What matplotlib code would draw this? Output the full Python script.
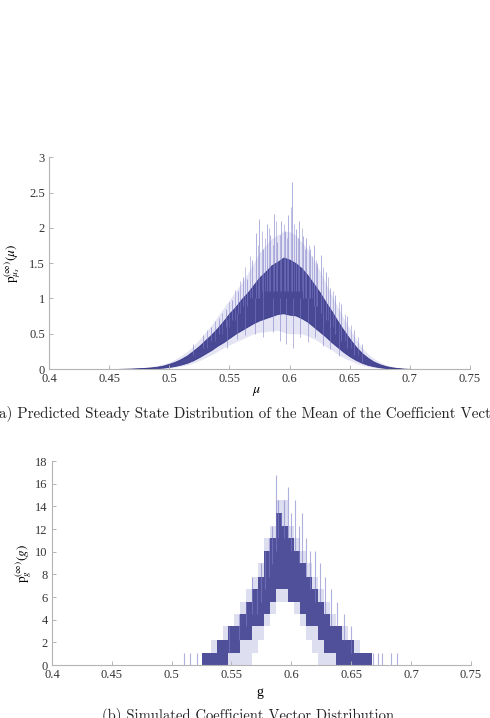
import matplotlib
import numpy as np
from matplotlib import pyplot as plt
from matplotlib.ticker import FormatStrFormatter

matplotlib.use("Agg")
plt.rcParams["mathtext.fontset"] = "stix"

# ---- (a) predicted steady state density of the mean
mu_x = [0.455, 0.460, 0.465, 0.470, 0.475, 0.480, 0.485, 0.490, 0.495, 0.500,
        0.505, 0.510, 0.515, 0.520, 0.525, 0.530, 0.535, 0.540, 0.545, 0.550,
        0.555, 0.560, 0.565, 0.570, 0.575, 0.580, 0.585, 0.590, 0.595, 0.600,
        0.605, 0.610, 0.615, 0.620, 0.625, 0.630, 0.635, 0.640, 0.645, 0.650,
        0.655, 0.660, 0.665, 0.670, 0.675, 0.680, 0.685, 0.690, 0.695, 0.700,
        0.705]
# dense dark core
mu_lo = [0.000, 0.000, 0.000, 0.002, 0.004, 0.006, 0.009, 0.014, 0.020, 0.030,
         0.045, 0.065, 0.090, 0.125, 0.17, 0.22, 0.27, 0.33, 0.38, 0.44,
         0.50, 0.55, 0.60, 0.65, 0.69, 0.72, 0.75, 0.78, 0.79, 0.77,
         0.76, 0.72, 0.67, 0.60, 0.53, 0.46, 0.38, 0.31, 0.24, 0.18,
         0.13, 0.09, 0.06, 0.04, 0.025, 0.015, 0.008, 0.004, 0.002, 0.000,
         0.000]
mu_hi = [0.000, 0.004, 0.006, 0.009, 0.012, 0.017, 0.024, 0.034, 0.050, 0.075,
         0.105, 0.145, 0.195, 0.26, 0.33, 0.41, 0.49, 0.58, 0.68, 0.79,
         0.88, 0.99, 1.08, 1.19, 1.30, 1.38, 1.47, 1.52, 1.58, 1.55,
         1.50, 1.43, 1.33, 1.21, 1.09, 0.95, 0.82, 0.68, 0.55, 0.43,
         0.32, 0.23, 0.16, 0.105, 0.068, 0.042, 0.025, 0.014, 0.007, 0.003,
         0.000]
# faint haze around the core
mu_haze_lo = [0, 0, 0, 0, 0, 0.002, 0.005, 0.008, 0.012, 0.018,
              0.028, 0.04, 0.06, 0.085, 0.12, 0.16, 0.2, 0.25, 0.3, 0.34,
              0.38, 0.42, 0.46, 0.5, 0.52, 0.53, 0.54, 0.55, 0.52, 0.5,
              0.5, 0.5, 0.47, 0.43, 0.38, 0.32, 0.27, 0.21, 0.16, 0.12,
              0.085, 0.055, 0.035, 0.022, 0.013, 0.008, 0.004, 0.002, 0, 0,
              0]
mu_haze_hi = [0, 0.006, 0.009, 0.013, 0.018, 0.025, 0.035, 0.05, 0.072, 0.1,
              0.14, 0.19, 0.25, 0.33, 0.42, 0.52, 0.62, 0.74, 0.86, 0.98,
              1.1, 1.22, 1.35, 1.5, 1.65, 1.75, 1.85, 1.9, 1.95, 1.95,
              1.9, 1.8, 1.7, 1.55, 1.4, 1.22, 1.05, 0.88, 0.72, 0.57,
              0.43, 0.31, 0.22, 0.15, 0.1, 0.06, 0.036, 0.02, 0.01, 0.004,
              0]

mu_spike_x = [0.520, 0.528, 0.535, 0.541, 0.547, 0.552, 0.557, 0.561, 0.565, 0.569,
              0.572, 0.575, 0.578, 0.581, 0.584, 0.587, 0.590, 0.593, 0.596, 0.599,
              0.602, 0.605, 0.608, 0.611, 0.614, 0.617, 0.620, 0.623, 0.626, 0.630,
              0.634, 0.638, 0.643, 0.648, 0.654, 0.660]
mu_spike_top = [0.36, 0.48, 0.60, 0.72, 0.85, 0.98, 1.10, 1.30, 1.28, 1.55,
                1.92, 2.12, 1.70, 2.05, 1.90, 2.20, 1.80, 2.10, 1.95, 2.18,
                2.65, 1.98, 2.10, 1.88, 1.85, 1.70, 1.76, 1.50, 1.62, 1.38,
                1.15, 1.05, 0.92, 0.75, 0.55, 0.35]
mu_spike_base = [0.2, 0.3, 0.4, 0.5, 0.6, 0.7, 0.8, 0.9, 0.9, 1.0,
                 1.0, 1.0, 1.0, 1.1, 1.1, 1.1, 1.1, 1.1, 1.1, 1.1,
                 1.1, 1.1, 1.1, 1.0, 1.0, 1.0, 0.9, 0.9, 0.8, 0.7,
                 0.6, 0.5, 0.4, 0.3, 0.2, 0.1]

mu_hair_x = [0.531, 0.538, 0.544, 0.550, 0.555, 0.559, 0.563, 0.567, 0.574, 0.577,
             0.580, 0.583, 0.586, 0.589, 0.592, 0.595, 0.598, 0.601, 0.604, 0.607,
             0.610, 0.613, 0.616, 0.619, 0.622, 0.628, 0.632, 0.636, 0.641, 0.646,
             0.651, 0.657]
mu_hair_base = [0.3, 0.4, 0.5, 0.6, 0.7, 0.8, 0.9, 1.0, 1.0, 1.1,
                1.1, 1.1, 1.1, 1.1, 1.1, 1.1, 1.1, 1.1, 1.1, 1.1,
                1.1, 1.0, 1.0, 1.0, 0.9, 0.8, 0.7, 0.6, 0.5, 0.4,
                0.3, 0.2]
mu_hair_top = [0.55, 0.68, 0.80, 0.95, 1.12, 1.25, 1.45, 1.60, 1.75, 1.95,
               1.85, 2.00, 1.75, 2.10, 1.90, 2.05, 1.85, 2.30, 2.05, 1.85,
               2.00, 1.70, 1.75, 1.60, 1.55, 1.45, 1.30, 1.10, 0.95, 0.78,
               0.62, 0.45]

mu_dip_x = [0.548, 0.556, 0.563, 0.571, 0.578, 0.586, 0.592, 0.597, 0.603, 0.609,
            0.615, 0.621, 0.628, 0.634, 0.641]
mu_dip_lo = [0.30, 0.42, 0.48, 0.50, 0.45, 0.52, 0.40, 0.36, 0.30, 0.45,
             0.38, 0.46, 0.33, 0.28, 0.18]
mu_dip_hi = [0.7, 0.8, 0.9, 1.0, 1.0, 1.0, 1.0, 1.0, 1.0, 1.0,
             1.0, 0.9, 0.8, 0.7, 0.5]

# ---- (b) simulated coefficient vector distribution
g_x = [0.525, 0.530, 0.535, 0.540, 0.545, 0.550, 0.555, 0.560, 0.565, 0.570,
       0.575, 0.580, 0.585, 0.590, 0.595, 0.600, 0.605, 0.610, 0.615, 0.620,
       0.625, 0.630, 0.635, 0.640, 0.645, 0.650, 0.655, 0.660, 0.665, 0.670]
g_outer_lo = [0, 0, 0, 0, 0, 0, 0, 0, 0, 1.1,
              2.2, 3.4, 4.5, 5.6, 5.6, 5.6, 4.5, 3.4, 2.2, 1.1,
              0, 0, 0, 0, 0, 0, 0, 0, 0, 0]
g_outer_hi = [1.1, 1.1, 2.2, 2.2, 3.4, 3.4, 4.5, 5.6, 6.7, 7.8,
              9.0, 11.2, 12.3, 14.6, 14.6, 12.3, 11.2, 10.1, 9.0, 7.8,
              6.7, 5.6, 4.5, 3.4, 3.4, 2.2, 2.2, 1.1, 1.1, 0]
g_lo = [0, 0, 0, 0, 0, 1.1, 1.1, 2.2, 2.2, 3.4,
        3.4, 4.5, 5.6, 6.7, 6.7, 5.6, 5.6, 4.5, 3.4, 3.4,
        2.2, 1.1, 1.1, 0, 0, 0, 0, 0, 0, 0]
g_hi = [1.1, 1.1, 1.1, 2.2, 2.2, 3.4, 3.4, 4.5, 5.6, 6.7,
        7.8, 10.1, 11.2, 13.4, 12.3, 11.2, 10.1, 9.0, 7.8, 6.7,
        5.6, 4.5, 3.4, 3.4, 2.2, 2.2, 1.1, 1.1, 1.1, 0]

g_spike_x = [0.510, 0.515, 0.521, 0.548, 0.556, 0.562, 0.567, 0.571, 0.575, 0.578,
             0.581, 0.584, 0.587, 0.589, 0.591, 0.594, 0.597, 0.600, 0.603, 0.606,
             0.609, 0.612, 0.616, 0.620, 0.624, 0.628, 0.633, 0.638, 0.644, 0.650,
             0.668, 0.672, 0.676, 0.683, 0.688]
g_spike_top = [1.1, 1.1, 1.1, 3.4, 4.5, 5.6, 7.8, 6.7, 9.0, 10.1,
               11.2, 12.3, 16.8, 14.6, 13.4, 14.6, 15.7, 13.4, 14.6, 12.3,
               13.4, 11.2, 10.1, 10.1, 9.0, 7.8, 6.7, 5.6, 4.5, 3.4,
               1.1, 1.1, 1.1, 1.1, 1.1]
g_spike_base = [0, 0, 0, 1.1, 2.2, 3.4, 4.5, 4.5, 5.6, 6.7,
                7.8, 8.9, 10.1, 11.2, 12.3, 11.2, 11.2, 10.1, 10.1, 9.0,
                9.0, 7.8, 6.7, 5.6, 5.6, 4.5, 3.4, 3.4, 2.2, 1.1,
                0, 0, 0, 0, 0]

x_ticks = [0.4, 0.45, 0.5, 0.55, 0.6, 0.65, 0.7, 0.75]

dark = "#2d2d85"
light = "#7c7cc8"
axis_grey = "#b4b4b4"


def style_axes(ax, yticks):
    for side in ["top", "right"]:
        ax.spines[side].set_visible(False)
    for side in ["left", "bottom"]:
        ax.spines[side].set_color(axis_grey)
        ax.spines[side].set_linewidth(0.8)
    ax.set_xlim(0.4, 0.75)
    ax.set_ylim(yticks[0], yticks[-1])
    ax.set_xticks(x_ticks)
    ax.set_yticks(yticks)
    ax.xaxis.set_major_formatter(FormatStrFormatter("%g"))
    ax.yaxis.set_major_formatter(FormatStrFormatter("%g"))
    ax.tick_params(direction="in", length=3, width=0.7, color=axis_grey,
                   pad=3, labelsize=9, labelcolor="#333333")
    for lab in ax.get_xticklabels() + ax.get_yticklabels():
        lab.set_family("Liberation Serif")


fig = plt.figure(figsize=(4.9, 7.18), dpi=100)

# top panel
ax1 = fig.add_axes([0.100, 0.486, 0.859, 0.295])
ax1.fill_between(mu_x, mu_haze_lo, mu_haze_hi, color=light, alpha=0.2, lw=0)
ax1.vlines(mu_spike_x, mu_spike_base, mu_spike_top, color=light, lw=0.7, alpha=0.6)
ax1.vlines(mu_hair_x, mu_hair_base, mu_hair_top, color=light, lw=0.6, alpha=0.55)
ax1.vlines(mu_dip_x, mu_dip_lo, mu_dip_hi, color=light, lw=0.7, alpha=0.55)
ax1.fill_between(mu_x, mu_lo, mu_hi, color=dark, alpha=0.85, lw=0.6, edgecolor=dark)
style_axes(ax1, [0, 0.5, 1, 1.5, 2, 2.5, 3])
ax1.set_xlabel(r"$\mu$", fontsize=10)
ax1.xaxis.set_label_coords(0.494, -0.071)
ax1.set_ylabel(r"$\mathrm{p}^{(\infty)}_{\mu_s}(\mu)$", fontsize=9.5)
ax1.yaxis.set_label_coords(-0.062, 0.5)

# bottom panel
ax2 = fig.add_axes([0.106, 0.0738, 0.855, 0.2841])
ax2.fill_between(g_x, g_outer_lo, g_outer_hi, step="mid", color=light, alpha=0.25, lw=0)
ax2.vlines(g_spike_x, g_spike_base, g_spike_top, color=light, lw=0.8, alpha=0.6)
ax2.fill_between(g_x, g_lo, g_hi, step="mid", color=dark, alpha=0.8, lw=0)
style_axes(ax2, [0, 2, 4, 6, 8, 10, 12, 14, 16, 18])
ax2.set_xlabel("g", fontsize=10, family="Liberation Serif")
ax2.xaxis.set_label_coords(0.496, -0.105)
ax2.set_ylabel(r"$\mathrm{p}^{(\infty)}_{g}(g)$", fontsize=9.5)
ax2.yaxis.set_label_coords(-0.042, 0.5)

# captions (cropped at the figure edges like the original scan)
fig.text(0.508, 0.418,
         "(a) Predicted Steady State Distribution of the Mean of the Coefficient Vector",
         ha="center", va="baseline", fontsize=10.85, family="cmr10", color="#222222")
fig.text(0.506, -0.003, "(b) Simulated Coefficient Vector Distribution",
         ha="center", va="baseline", fontsize=10.5, family="cmr10", color="#222222")

fig.savefig("out.png", dpi=100)
